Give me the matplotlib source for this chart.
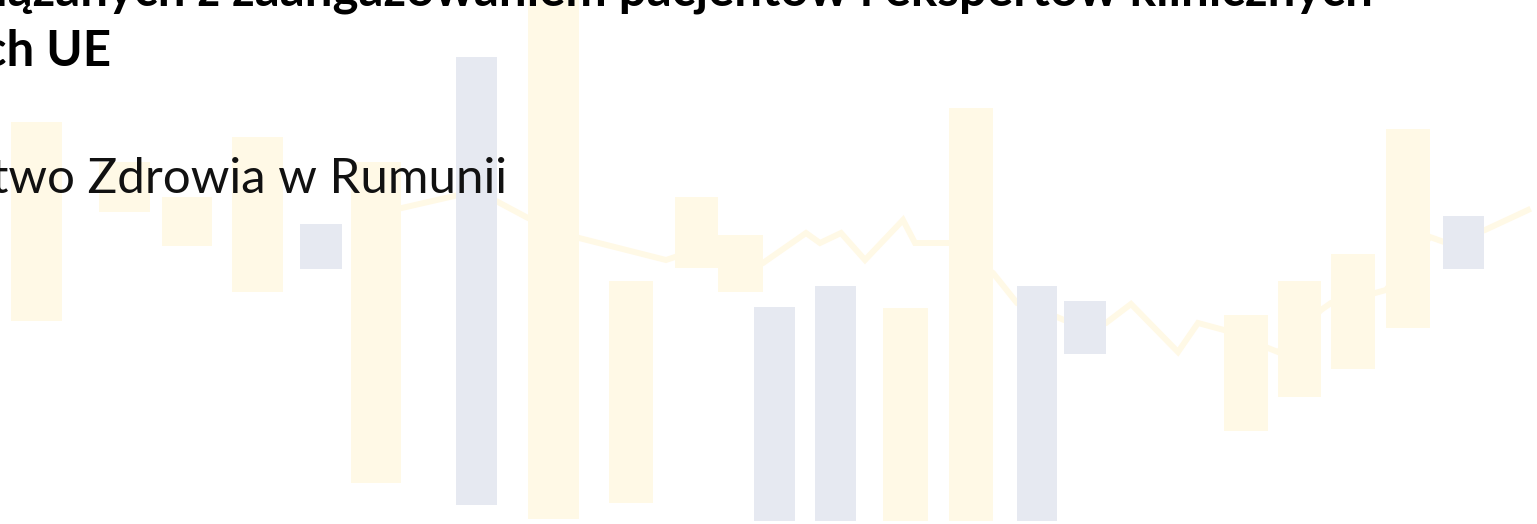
import matplotlib
matplotlib.use('Agg')
import matplotlib.pyplot as plt

# Kolory tla slajdu
YELLOW = '#FFF9E6'
GREY = '#E6E9F1'

# Prostokaty (lewa, prawa, gora, dol) w pikselach slajdu
bar_left = [11, 99, 162, 232, 300, 351, 456, 528, 609, 675, 718, 754, 815,
            883, 949, 1017, 1064, 1224, 1278, 1331, 1386, 1443]
bar_right = [62, 150, 212, 283, 342, 401, 497, 579, 653, 718, 763, 795, 856,
             928, 993, 1057, 1106, 1268, 1321, 1375, 1430, 1484]
bar_top = [122, 162, 197, 137, 224, 162, 57, -5, 281, 197, 235, 307, 286,
           308, 108, 286, 301, 315, 281, 254, 129, 216]
bar_bottom = [321, 212, 246, 292, 269, 483, 505, 519, 503, 268, 292, 521, 521,
              521, 521, 521, 354, 431, 397, 369, 328, 269]
bar_kind = ['y', 'y', 'y', 'y', 'g', 'y', 'g', 'y', 'y', 'y', 'y', 'g', 'g',
            'y', 'y', 'g', 'g', 'y', 'y', 'y', 'y', 'g']

# Linia w tle
line_x = [380, 476, 498, 528, 555, 579, 666, 690, 740, 763, 806, 820, 841,
          865, 903, 915, 950, 970, 993, 1017, 1040, 1057, 1064, 1106, 1131,
          1178, 1198, 1224, 1268, 1278, 1321, 1331, 1375, 1386, 1430, 1444,
          1485, 1528]
line_y = [213, 191, 202, 218, 228, 238, 260, 252, 258, 263, 233, 243, 233,
          260, 220, 243, 243, 258, 273, 303, 312, 317, 320, 323, 304,
          352, 323, 330, 348, 352, 310, 303, 293, 290, 237, 242,
          230, 210]

title_1 = 'związanych z zaangażowaniem pacjentów i ekspertów klinicznych'
title_2 = 'w krajach UE'
subtitle = 'Ministerstwo Zdrowia w Rumunii'

fig = plt.figure(figsize=(15.37, 5.24), dpi=100)
ax = fig.add_axes([0, 0, 1, 1])
ax.set_xlim(0, 1537)
ax.set_ylim(524, 0)
ax.axis('off')

ax.plot(line_x, line_y, color=YELLOW, linewidth=4.3, solid_joinstyle='miter', zorder=1)

for l, r, t, b, k in zip(bar_left, bar_right, bar_top, bar_bottom, bar_kind):
    ax.bar(l, b - t, width=r - l, bottom=t, align='edge',
           color=YELLOW if k == 'y' else GREY, linewidth=0, zorder=2)

ax.text(1373, 6, title_1, ha='right', va='baseline', fontsize=35.5,
        fontweight='bold', family='Lato', color='black', zorder=3)
ax.text(111, 65, title_2, ha='right', va='baseline', fontsize=35.5,
        fontweight='bold', family='Lato', color='black', zorder=3)
ax.text(507, 193, subtitle, ha='right', va='baseline', fontsize=35.5,
        family='Lato', color='#111111', zorder=3)

fig.savefig('out.png', dpi=100)
